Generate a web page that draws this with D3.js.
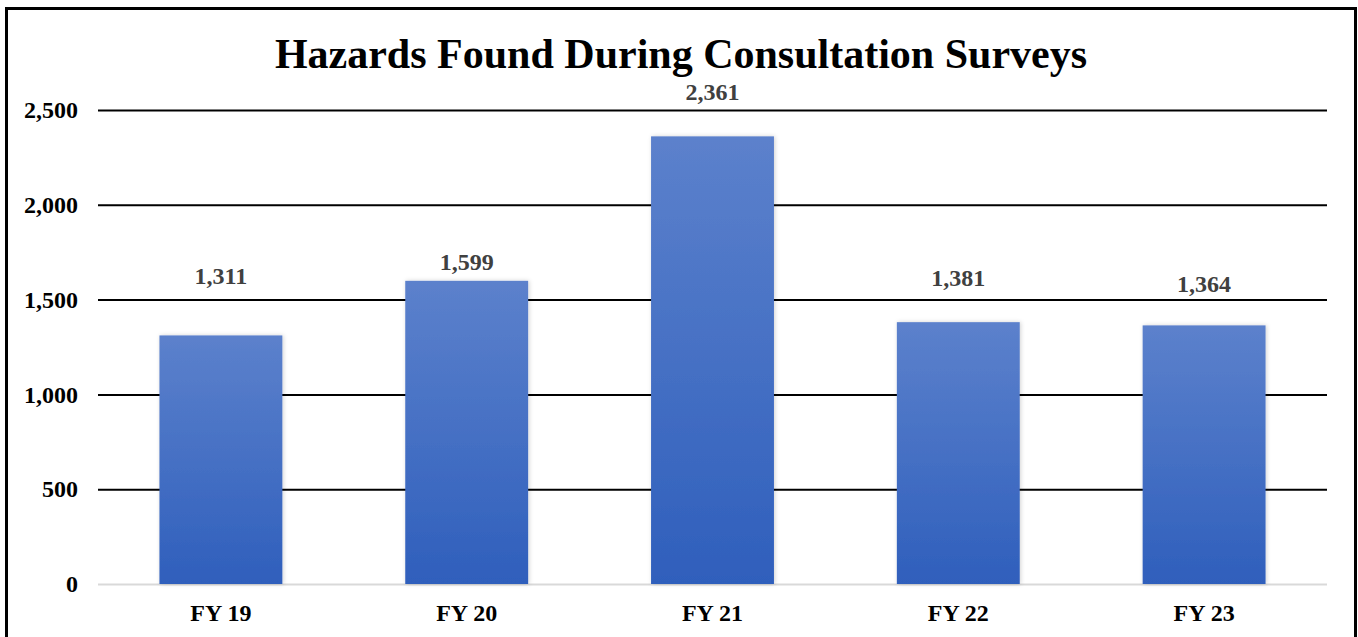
<!DOCTYPE html>
<html>
<head>
<meta charset="utf-8">
<script src="https://cdn.jsdelivr.net/npm/d3@7"></script>
<style>
  html, body { margin: 0; padding: 0; background: #fff; }
  #chart { width: 1358px; height: 637px; overflow: hidden; }
</style>
</head>
<body>
<div id="chart"></div>
<script>
const categories = ["FY 19", "FY 20", "FY 21", "FY 22", "FY 23"]
const hazards = [1311, 1599, 2361, 1381, 1364]
const yTicks = [0, 500, 1000, 1500, 2000, 2500]
const chartTitle = "Hazards Found During Consultation Surveys"

// labels in the original were nudged by hand, so lift each one a little differently
const labelLift = [51, 11, 36, 36, 33]

const W = 1358, H = 637
const margin = { top: 110, right: 31, bottom: 53, left: 98 }
const serif = '"Liberation Serif", "Times New Roman", serif'
const fmt = d3.format(",")

const svg = d3.select("#chart")
    .append("svg")
    .attr("width", W)
    .attr("height", H)

// gradient for bars
const grad = svg.append("defs").append("linearGradient")
    .attr("id", "barGrad")
    .attr("x1", "0%").attr("x2", "0%")
    .attr("y1", "0%").attr("y2", "100%")
grad.append("stop").attr("offset", "0%").attr("stop-color", "#5C81CC")
grad.append("stop").attr("offset", "100%").attr("stop-color", "#2F5FBC")

svg.select("defs").append("filter")
    .attr("id", "shadow")
    .attr("x", "-10%").attr("y", "-10%")
    .attr("width", "120%").attr("height", "120%")
    .append("feDropShadow")
    .attr("dx", 1).attr("dy", 0)
    .attr("stdDeviation", 2)
    .attr("flood-color", "#000")
    .attr("flood-opacity", 0.18)

// outer frame
svg.append("rect")
    .attr("x", 6.5).attr("y", 8.5)
    .attr("width", 1349).attr("height", 650)
    .attr("fill", "none")
    .attr("stroke", "#000")
    .attr("stroke-width", 3)

const x = d3.scaleBand()
    .domain(categories)
    .range([margin.left, W - margin.right])
    .paddingInner(0.5)
    .paddingOuter(0.25)

const y = d3.scaleLinear()
    .domain([0, 2500])
    .range([H - margin.bottom, margin.top])

// title
svg.append("text")
    .attr("x", 681)
    .attr("y", 68)
    .attr("text-anchor", "middle")
    .style("font-family", serif)
    .style("font-weight", "bold")
    .style("font-size", "42px")
    .attr("fill", "#000")
    .text(chartTitle)

// gridlines
const yAxis = svg.append("g")
    .attr("transform", "translate(" + margin.left + ",0)")
    .call(d3.axisLeft(y)
        .tickValues(yTicks)
        .tickFormat(fmt)
        .tickSize(-(W - margin.left - margin.right))
        .tickPadding(20))
yAxis.select(".domain").remove()
yAxis.selectAll(".tick line")
    .attr("stroke", d => d === 0 ? "#d9d9d9" : "#000")
    .attr("stroke-width", 2)
yAxis.selectAll(".tick text")
    .style("font-family", serif)
    .style("font-weight", "bold")
    .style("font-size", "24px")
    .attr("fill", "#000")

// bars
svg.append("g")
    .selectAll("rect")
    .data(hazards)
    .enter()
    .append("rect")
    .attr("x", (d, i) => x(categories[i]))
    .attr("y", d => y(d))
    .attr("width", x.bandwidth())
    .attr("height", d => y(0) - y(d))
    .attr("fill", "url(#barGrad)")
    .attr("filter", "url(#shadow)")

// value labels
svg.append("g")
    .selectAll("text")
    .data(hazards)
    .enter()
    .append("text")
    .attr("x", (d, i) => x(categories[i]) + x.bandwidth() / 2)
    .attr("y", (d, i) => y(d) - labelLift[i])
    .attr("text-anchor", "middle")
    .style("font-family", serif)
    .style("font-weight", "bold")
    .style("font-size", "24px")
    .attr("fill", "#404040")
    .text(d => fmt(d))

// x axis labels
const xAxis = svg.append("g")
    .attr("transform", "translate(0," + y(0) + ")")
    .call(d3.axisBottom(x).tickSize(0).tickPadding(20))
xAxis.select(".domain").remove()
xAxis.selectAll(".tick text")
    .style("font-family", serif)
    .style("font-weight", "bold")
    .style("font-size", "24px")
    .attr("fill", "#000")
</script>
</body>
</html>
